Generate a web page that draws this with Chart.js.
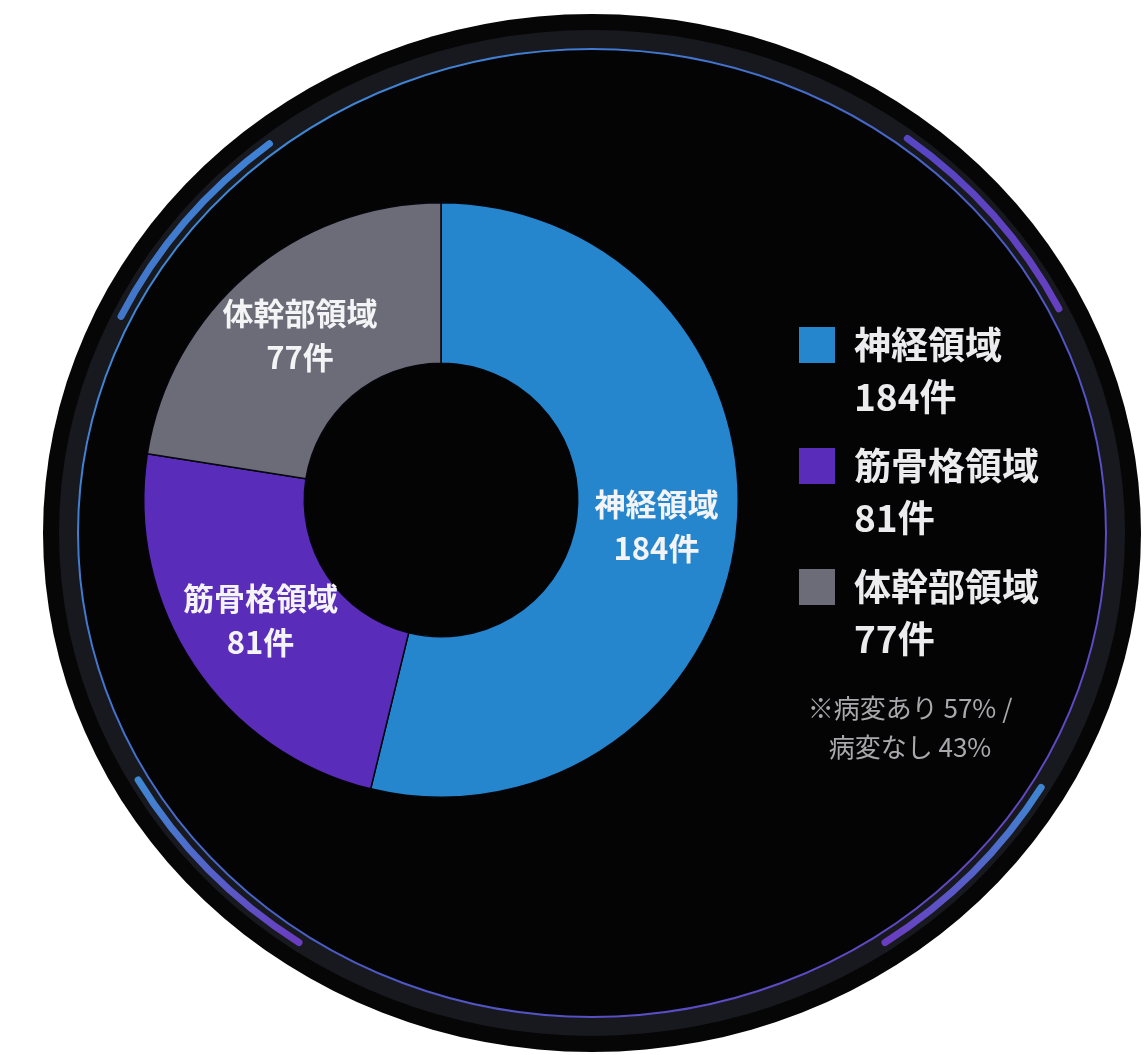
<!DOCTYPE html>
<html lang="ja">
<head>
<meta charset="utf-8">
<title>領域別件数</title>
<script src="https://cdn.jsdelivr.net/npm/chart.js@4"></script>
<style>
  html, body { margin: 0; padding: 0; background: #ffffff; }
  canvas { display: block; }
</style>
</head>
<body>
<canvas id="chart-donut" width="1145" height="1055"></canvas>
<script>
const categories = ['神経領域', '筋骨格領域', '体幹部領域'];
const counts = [184, 81, 77];
const unit = '件';
const sliceColors = ['#2686cd', '#5a2cba', '#6b6c77'];
const noteLines = ['※病変あり 57% /', '病変なし 43%'];

const FONT = '"Noto Sans CJK JP", "Noto Sans", sans-serif';

// round "display" behind the chart
const pluginBezel = {
    id: 'bezel',
    beforeDraw: (chart) => {
        const ctx = chart.ctx;
        const cx = 592, cy = 533, rx = 549, ry = 519;
        ctx.save();
        ctx.fillStyle = '#ffffff';
        ctx.fillRect(0, 0, chart.width, chart.height);

        const ell = (d) => {
            ctx.beginPath();
            ctx.ellipse(cx, cy, rx - d, ry - d, 0, 0, Math.PI * 2);
        };
        ell(0); ctx.fillStyle = '#060607'; ctx.fill();
        ell(16); ctx.fillStyle = '#18191e'; ctx.fill();
        ell(34); ctx.fillStyle = '#040405'; ctx.fill();

        // thin ring
        const g = ctx.createLinearGradient(100, 100, 1100, 1000);
        g.addColorStop(0, '#3b93d8');
        g.addColorStop(0.55, '#4a5cc4');
        g.addColorStop(1, '#6a3fc2');
        ell(35);
        ctx.strokeStyle = g;
        ctx.lineWidth = 2;
        ctx.stroke();

        // accent arcs
        const deg = Math.PI / 180;
        const accent = (a0, a1, c0, c1) => {
            const r1 = rx - 25, r2 = ry - 25;
            const p0 = [cx + r1 * Math.cos(a0 * deg), cy + r2 * Math.sin(a0 * deg)];
            const p1 = [cx + r1 * Math.cos(a1 * deg), cy + r2 * Math.sin(a1 * deg)];
            const lg = ctx.createLinearGradient(p0[0], p0[1], p1[0], p1[1]);
            lg.addColorStop(0, c0);
            lg.addColorStop(1, c1);
            ctx.beginPath();
            ctx.ellipse(cx, cy, r1, r2, 0, a0 * deg, a1 * deg);
            ctx.strokeStyle = lg;
            ctx.lineWidth = 7;
            ctx.lineCap = 'round';
            ctx.stroke();
        };
        accent(206, 232, '#4276c9', '#3f82d6');
        accent(-53, -27, '#5746c4', '#6540c0');
        accent(124, 150, '#6a3cc0', '#3f88d2');
        accent(31, 56, '#3f86d2', '#6a3cc0');
        ctx.restore();
    }
};

// two-line labels on the slices
const pluginSliceLabels = {
    id: 'sliceLabels',
    afterDatasetsDraw: (chart) => {
        const ctx = chart.ctx;
        const meta = chart.getDatasetMeta(0);
        ctx.save();
        ctx.font = '600 31px ' + FONT;
        ctx.fillStyle = '#f4f4f6';
        ctx.textAlign = 'center';
        ctx.textBaseline = 'middle';
        meta.data.forEach((arc, i) => {
            const p = arc.tooltipPosition();
            ctx.fillText(categories[i], p.x, p.y - 22);
            ctx.fillText(counts[i] + unit, p.x, p.y + 22);
        });
        ctx.restore();
    }
};

// legend + note on the right
const pluginSideLegend = {
    id: 'sideLegend',
    afterDraw: (chart) => {
        const ctx = chart.ctx;
        ctx.save();
        ctx.textBaseline = 'middle';
        categories.forEach((name, i) => {
            const y = 345 + i * 121;
            ctx.fillStyle = sliceColors[i];
            ctx.fillRect(799, y - 18, 36, 36);
            ctx.fillStyle = '#ececee';
            ctx.font = '600 37px ' + FONT;
            ctx.textAlign = 'left';
            ctx.fillText(name, 854, y);
            ctx.fillText(counts[i] + unit, 854, y + 52);
        });
        ctx.fillStyle = '#a9a9ad';
        ctx.font = '26px ' + FONT;
        ctx.textAlign = 'center';
        noteLines.forEach((t, i) => ctx.fillText(t, 910, 708 + i * 39));
        ctx.restore();
    }
};

const ctx = document.getElementById('chart-donut');
const myChart = new Chart(ctx, {
    type: 'doughnut',
    data: {
        labels: categories,
        datasets: [{
            data: counts,
            backgroundColor: sliceColors,
            borderColor: '#06060c',
            borderWidth: 1.5,
        }]
    },
    options: {
        responsive: false,
        animation: false,
        cutout: '46%',
        layout: {
            padding: { left: 142, right: 405, top: 202, bottom: 257 }
        },
        plugins: {
            legend: { display: false },
            tooltip: { enabled: false },
        }
    },
    plugins: [pluginBezel, pluginSliceLabels, pluginSideLegend],
});
</script>
</body>
</html>
